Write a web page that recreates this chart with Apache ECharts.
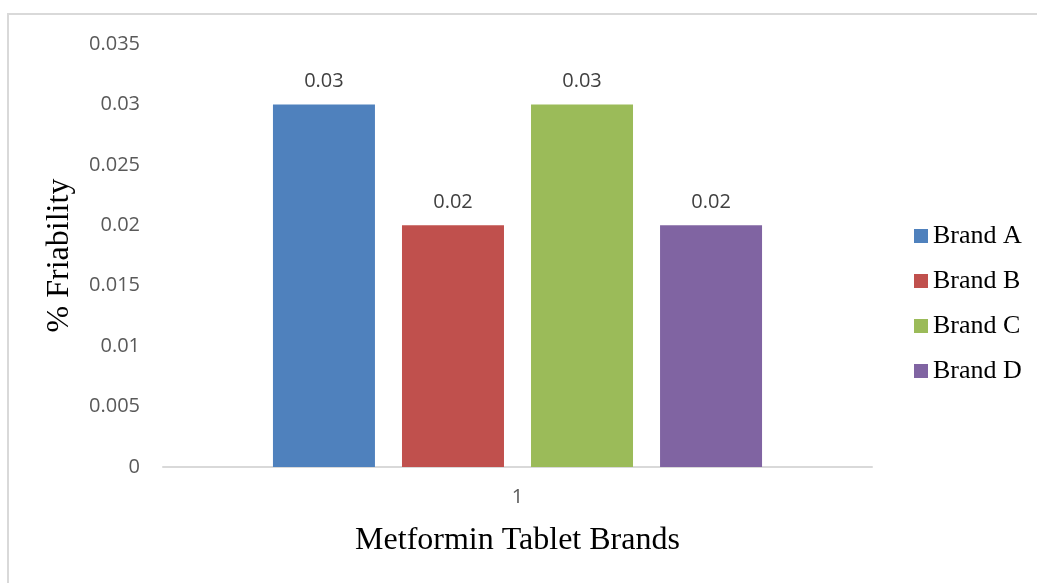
<!DOCTYPE html>
<html>
<head>
    <meta charset="utf-8" />
    <title>% Friability</title>
    <script src="https://cdn.jsdelivr.net/npm/echarts@6/dist/echarts.min.js"></script>
</head>
<body style="margin:0;padding:0">
    <div id="main" style="width:1037px;height:583px;margin:0;padding:0"></div>
    <script type="text/javascript">
        // data
        var categories = ['1'];
        var brandNames = ['Brand A', 'Brand B', 'Brand C', 'Brand D'];
        var brandA = [0.03];
        var brandB = [0.02];
        var brandC = [0.03];
        var brandD = [0.02];
        var brandColors = ['#4f81bd', '#c0504d', '#9bbb59', '#8064a2'];

        var myChart = echarts.init(document.getElementById('main'));
        var allValues = [brandA, brandB, brandC, brandD];
        var series = [];
        for (var i = 0; i < brandNames.length; i++) {
            series.push({
                name: brandNames[i],
                type: 'bar',
                data: allValues[i],
                barWidth: 102,
                barGap: '26.5%',
                itemStyle: { color: brandColors[i] },
                label: {
                    show: true,
                    position: 'top',
                    distance: 13,
                    color: '#404040',
                    fontSize: 20,
                    fontFamily: 'Open Sans'
                }
            });
        }

        myChart.setOption({
            animation: false,
            backgroundColor: '#fff',
            graphic: [{
                type: 'rect',
                shape: { x: 8, y: 14, width: 1100, height: 700 },
                style: { fill: 'none', stroke: '#d9d9d9', lineWidth: 2 }
            }],
            grid: { left: 163, right: 165, top: 44, bottom: 116 },
            legend: {
                data: brandNames,
                orient: 'vertical',
                left: 909,
                top: 218,
                itemWidth: 14,
                itemHeight: 14,
                itemGap: 19,
                icon: 'rect',
                textStyle: { fontFamily: 'Liberation Serif', fontSize: 26, color: '#000', lineHeight: 26 }
            },
            xAxis: {
                type: 'category',
                data: categories,
                name: 'Metformin Tablet Brands',
                nameLocation: 'middle',
                nameGap: 58,
                nameTextStyle: { fontFamily: 'Liberation Serif', fontSize: 32, color: '#000' },
                axisLine: { lineStyle: { color: '#d9d9d9', width: 2 } },
                axisTick: { show: false },
                axisLabel: { color: '#595959', fontSize: 20, fontFamily: 'Open Sans', margin: 20 }
            },
            yAxis: {
                type: 'value',
                min: 0,
                max: 0.035,
                interval: 0.005,
                name: '% Friability',
                nameLocation: 'middle',
                nameGap: 87,
                nameTextStyle: { fontFamily: 'Liberation Serif', fontSize: 32, color: '#000' },
                axisLine: { show: false },
                axisTick: { show: false },
                splitLine: { show: false },
                axisLabel: { color: '#595959', fontSize: 20, fontFamily: 'Open Sans', margin: 23 }
            },
            series: series
        });
    </script>
</body>
</html>
